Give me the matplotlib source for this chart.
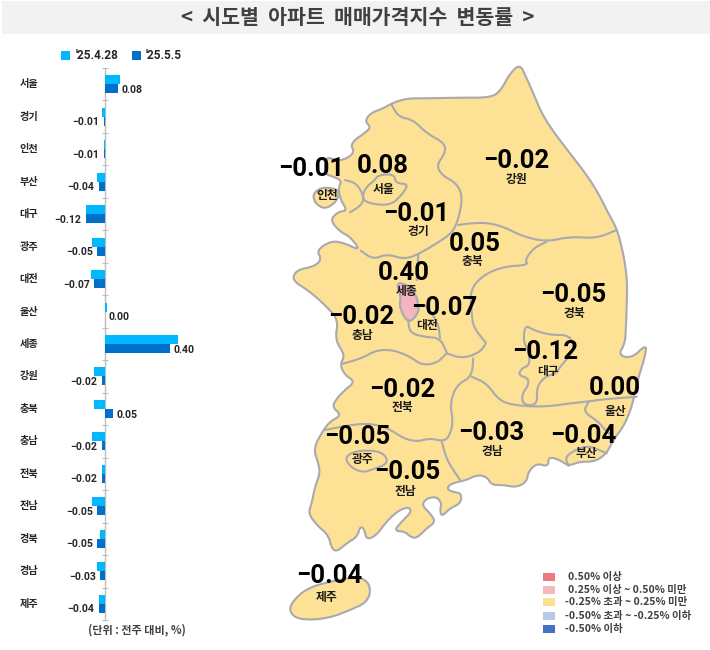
import logging
import numpy as np
import matplotlib
matplotlib.use("Agg")
import matplotlib.pyplot as plt
from matplotlib.patches import Polygon, Rectangle
logging.getLogger("matplotlib.font_manager").setLevel(logging.ERROR)

KR = ['Noto Sans CJK KR', 'DejaVu Sans']
NUM = ['Roboto', 'DejaVu Sans']

# ---------- data ----------
regions = ['서울','경기','인천','부산','대구','광주','대전','울산','세종','강원','충북','충남','전북','전남','경북','경남','제주']
apr28 = [0.09,-0.02,-0.01,-0.05,-0.12,-0.08,-0.09,0.01,0.45,-0.07,-0.07,-0.08,-0.02,-0.08,-0.03,-0.05,-0.04]
may05 = [0.08,-0.01,-0.01,-0.04,-0.12,-0.05,-0.07,0.00,0.40,-0.02,0.05,-0.02,-0.02,-0.05,-0.05,-0.03,-0.04]
series_names = ["'25.4.28", "'25.5.5"]
legend_labels = ['0.50% 이상','0.25% 이상 ~ 0.50% 미만','-0.25% 초과 ~ 0.25% 미만','-0.50% 초과 ~ -0.25% 이하','-0.50% 이하']
title = '<  시도별  아파트  매매가격지수  변동률  >'
unit = '(단위 : 전주 대비, %)'

# ---------- map layout (pixel positions) ----------
value_pos = {'서울':(383,166),'경기':(416,214),'인천':(311,169),'부산':(583,436),'대구':(545,352),'광주':(357,437),
             '대전':(444,308),'울산':(615,388),'세종':(404,273),'강원':(516,161),'충북':(475,244),'충남':(361,317),
             '전북':(402,390),'전남':(407,472),'경북':(573,295),'경남':(491,433),'제주':(329,576)}
name_pos = {'서울':(384,190),'경기':(418,231),'인천':(327,195),'부산':(586,454),'대구':(548,372),'광주':(363,459),
            '대전':(427,325),'울산':(615,411),'세종':(407,292),'강원':(517,180),'충북':(472,261),'충남':(362,335),
            '전북':(402,408),'전남':(405,492),'경북':(574,313),'경남':(492,451),'제주':(327,597)}

def a(pts):
    p = np.array(pts, float)
    return np.c_[270 + p[:, 0] / 3, 50 + p[:, 1] / 3]

def b(pts):
    p = np.array(pts, float)
    return np.c_[270 + p[:, 0] / 3, 340 + p[:, 1] / 3]

def smooth(p, closed=False, n=2):
    for _ in range(n):
        q = np.roll(p, -1, axis=0) if closed else p[1:]
        s = p if closed else p[:-1]
        new = np.empty((2 * len(s), 2))
        new[0::2] = 0.75 * s + 0.25 * q
        new[1::2] = 0.25 * s + 0.75 * q
        if not closed:
            new = np.vstack([p[0], new, p[-1]])
        p = new
    return p

main_land = np.vstack([
    a([(750,42),(770,85),(790,130),(815,190),(850,245),(900,310),(950,375),(985,430),(1015,490),(1040,535),(1055,590),
       (1065,640),(1072,700),(1070,770),(1068,830),(1065,880)]),
    b([(1045,45),(1085,55),(1130,12),(1125,50),(1100,130),(1090,180),(1080,215),(1060,260),(1030,300),(1010,340),(975,365),
       (930,365),(895,378),(870,360),(835,350),(835,380),(800,370),(775,395),(770,425),(740,442),(700,435),(665,435),
       (650,410),(620,405),(590,420),(545,430),(530,445),(545,455),(575,460),(572,490),(540,505),(515,530),(510,510),
       (515,490),(500,470),(470,475),(455,495),(480,520),(497,545),(470,565),(440,595),(420,590),(405,575),(372,572),
       (395,545),(425,515),(415,500),(380,515),(345,550),(320,585),(290,600),(282,565),(270,560),(262,590),(230,610),
       (200,635),(185,625),(175,585),(140,555),(115,520),(125,490),(135,440),(150,400),(145,370),(130,325),(160,270),
       (180,245),(215,225),(185,200),(205,170),(225,150),(255,125),(225,105),(210,75),(225,45),(195,0)]),
    a([(205,810),(170,770),(120,725),(65,690),(80,660),(130,650),(155,630),(140,600),(185,572),(225,580),(272,602),
       (240,560),(210,545),(180,510),(205,485),(232,482),(212,450),(205,415),(215,392),(190,380),(165,372),(165,345),
       (170,320),(210,335),(255,310),(240,280),(290,245),(302,230),(285,215),(300,190),(340,175),(365,160),(410,145),
       (470,145),(560,143),(660,143),(690,125),(720,70)]),
])
jeju = b([(55,805),(85,765),(125,740),(180,725),(260,710),(295,725),(302,760),(285,790),(240,810),(190,830),(130,840),(75,835)])
incheon_isl = a([(128,430),(160,410),(210,420),(200,455),(165,478),(135,460)])
seoul = a([(310,395),(325,375),(372,372),(378,400),(415,402),(398,432),(360,468),(283,458),(278,430),(295,405)])
gwangju = b([(225,350),(260,332),(322,332),(350,350),(350,372),(310,388),(275,398),(238,378)])
daegu = b([(765,-45),(790,-30),(840,-15),(900,-15),(915,30),(870,80),(860,100),(825,110),(800,140),(802,195),(760,195),
           (755,165),(775,135),(775,115),(745,105),(755,85),(780,75),(775,30),(760,5)])
sejong = a([(378,695),(420,708),(443,745),(443,770),(448,780),(428,812),(408,812),(388,770),(393,740)])

borders = [
    a([(365,165),(385,200),(430,210),(470,250),(525,280),(525,310),(500,345),(515,375),(560,400),(578,440),(565,510),
       (545,550),(500,580),(450,610),(405,628),(350,612),(310,628),(272,602)]),
    a([(565,525),(600,520),(650,518),(700,530),(760,560),(830,575),(900,560),(980,565),(1040,540)]),
    np.vstack([a([(830,575),(790,595),(765,630),(775,645),(700,650),(640,675),(600,720),(605,790),(610,830),(640,870)]),
               b([(650,10),(625,40),(575,55),(530,40)])]),
    a([(445,612),(440,690)]),
    np.array([(447,353),(440,338),(425,337),(410,333),(408,320)], float),
    np.array([(425,305),(438,322),(440,338)], float),
    b([(530,40),(500,70),(455,75),(420,50),(370,30),(320,30),(275,55),(215,72)]),
    b([(610,55),(605,110),(560,135),(540,190),(550,250),(535,295),(515,303),(480,295),(440,305),(400,295),(355,265),
       (300,250),(240,255),(165,270)]),
    b([(515,303),(530,360),(570,420)]),
    b([(605,110),(650,130),(690,185),(750,198),(830,200),(900,190),(950,185),(1000,178),(1100,170)]),
    b([(955,187),(940,215),(985,245),(1005,270),(1035,295)]),
    b([(895,378),(885,350),(925,325),(960,318),(1010,340)]),
    a([(225,390),(260,400),(282,440),(275,465),(240,487)]),
]

fig = plt.figure(figsize=(7.1, 6.5), dpi=100, facecolor='white')
bg = fig.add_axes([0, 0, 1, 1])
bg.set_xlim(0, 710)
bg.set_ylim(650, 0)
bg.axis('off')

bg.add_patch(Rectangle((2, 1), 708, 33, fc='#f2f2f2', ec='none'))
bg.text(358, 18, title, family=KR, weight='bold', fontsize=14.8, color='#404040', ha='center', va='center')

# ---------- map ----------
LAND = '#fde295'
EDGE = '#a9a9ae'
lw = 1.5
bg.add_patch(Polygon(smooth(main_land, True), closed=True, fc=LAND, ec=EDGE, lw=lw, joinstyle='round'))
for shape in (jeju, incheon_isl, seoul, gwangju, daegu):
    bg.add_patch(Polygon(smooth(shape, True), closed=True, fc=LAND, ec=EDGE, lw=lw, joinstyle='round'))
for line in borders:
    s = smooth(line)
    bg.plot(s[:, 0], s[:, 1], color=EDGE, lw=lw, solid_capstyle='round')
bg.add_patch(Polygon(smooth(sejong, True), closed=True, fc='#f4b6bd', ec=EDGE, lw=lw, joinstyle='round'))

def fmt(v):
    return ('\u2212' if v < 0 else '') + f'{abs(v):.2f}'

for name, v in zip(regions, may05):
    x, y = value_pos[name]
    bg.text(x, y, fmt(v), family=NUM, weight='bold', fontsize=18.5, color='black', ha='center', va='center', zorder=5)
    x, y = name_pos[name]
    bg.text(x, y, name, family=KR, weight='bold', fontsize=8.5, color='#1a1a1a', ha='center', va='center', zorder=5)

# ---------- map legend ----------
legend_colors = ['#ec7a80', '#f6b8bd', '#fde08e', '#b7c9e8', '#4472c4']
legend_y = [577, 590, 602, 616, 629]
legend_x = [568, 568, 565, 565, 565]
for lab, c, y, x in zip(legend_labels, legend_colors, legend_y, legend_x):
    bg.add_patch(Rectangle((543, y - 4), 12, 8, fc=c, ec='none'))
    bg.text(x, y, lab, family=KR, weight='bold', fontsize=7.5, color='#404040', ha='left', va='center')

# ---------- bars ----------
S1, S2 = '#00b8ff', '#0070c9'
ax = fig.add_axes([0, 1 - 620 / 650, 240 / 710, (620 - 68) / 650])
ppu = 161.0
ax.patch.set_alpha(0)
ax.set_xlim(-105.3 / ppu, (240 - 105.3) / ppu)
ax.set_ylim(len(regions), 0)
y = np.arange(len(regions)) + 0.5
h = 9.0 / 32.47
ax.barh(y - h / 2, apr28, height=h, color=S1, zorder=3)
ax.barh(y + h / 2, may05, height=h, color=S2, zorder=3)
for sp in ('top', 'right', 'bottom'):
    ax.spines[sp].set_visible(False)
ax.spines['left'].set_position(('data', 0))
ax.spines['left'].set_color('#bdbdbd')
ax.spines['left'].set_linewidth(1.0)
ax.set_xticks([])
ax.set_yticks(np.arange(len(regions) + 1))
ax.set_yticklabels([])
ax.tick_params(axis='y', which='major', direction='inout', length=4, width=0.8, color='#bdbdbd')
for yy, name in zip(y, regions):
    ax.annotate(name, xy=(0, yy), xycoords=('axes fraction', 'data'), xytext=(29 * 0.72, 0), textcoords='offset points',
                family=KR, weight='bold', fontsize=7.3, color='#262626', ha='center', va='center')
for yy, v in zip(y, may05):
    off = 3.5 if v >= 0 else -4.5
    ax.annotate(fmt(v), xy=(v, yy + h / 2), xytext=(off * 0.72, -0.8), textcoords='offset points',
                family=NUM, weight='bold', fontsize=7.6, color='#262626',
                ha='left' if v >= 0 else 'right', va='center', zorder=4)

# ---------- bar legend / unit ----------
for x0, tx, c, lab in zip((61, 132), (76, 146), (S1, S2), series_names):
    bg.add_patch(Rectangle((x0, 51), 9, 9, fc=c, ec='none'))
    bg.text(tx, 55.5, lab, family=NUM, weight='bold', fontsize=8.5, color='#262626', ha='left', va='center')
bg.text(88, 630, unit, family=KR, weight='bold', fontsize=8, color='#404040', ha='left', va='center')

fig.savefig('out.png', dpi=100)
